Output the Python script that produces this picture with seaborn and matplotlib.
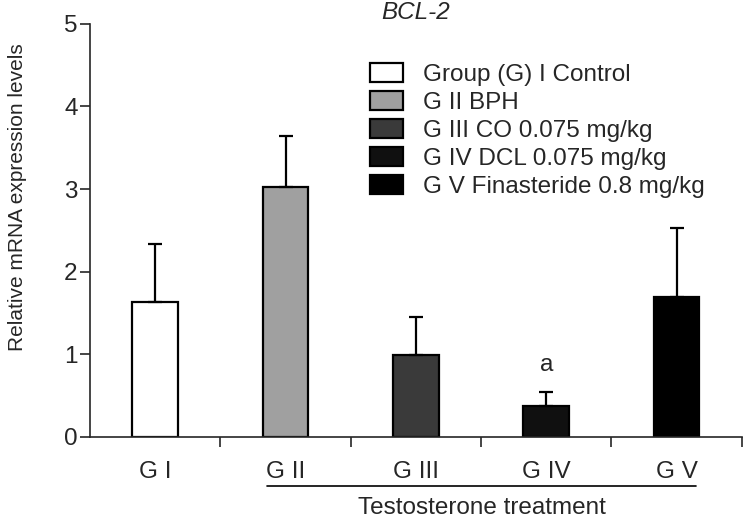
import matplotlib
matplotlib.use("Agg")
import pandas as pd
import seaborn as sns
from matplotlib import pyplot as plt

groups = ["G I", "G II", "G III", "G IV", "G V"]
legend_labels = ["Group (G) I Control",
                 "G II BPH",
                 "G III CO 0.075 mg/kg",
                 "G IV DCL 0.075 mg/kg",
                 "G V Finasteride 0.8 mg/kg"]
means = [1.63, 3.02, 0.99, 0.38, 1.69]
errors = [0.71, 0.62, 0.46, 0.16, 0.84]
colors = ["#ffffff", "#a0a0a0", "#3a3a3a", "#101010", "#000000"]

sns.set_style("ticks")
plt.rcParams["font.family"] = ["Liberation Sans", "DejaVu Sans"]

df = pd.DataFrame({"group": groups, "label": legend_labels, "value": means})

fig = plt.figure(figsize=(7.44, 5.19), dpi=100)
ax = fig.add_axes([0.121, 0.158, 0.876, 0.796])

sns.barplot(df, x="group", y="value", hue="label", palette=colors, dodge=False,
            width=0.35, edgecolor="black", linewidth=1.6, errorbar=None, ax=ax)
ax.errorbar(range(len(groups)), means, yerr=[[0] * len(errors), errors], fmt="none",
            ecolor="black", elinewidth=1.6, capsize=5, capthick=1.6, zorder=1)

ax.set_xlim(-0.5, 4.5)
ax.set_ylim(0, 5)
ax.set_yticks([0, 1, 2, 3, 4, 5])
ax.set_xticks(range(len(groups)))
ax.set_xticklabels(groups)
ax.set_xticks([0.5, 1.5, 2.5, 3.5, 4.5], minor=True)
ax.tick_params(axis="x", which="major", length=0, pad=17, labelsize=17.5)
ax.tick_params(axis="x", which="minor", length=7, width=1.2, direction="out")
ax.tick_params(axis="y", length=7, width=1.2, direction="out", labelsize=17.5, pad=2)
for s in ["top", "right"]:
    ax.spines[s].set_visible(False)
for s in ["left", "bottom"]:
    ax.spines[s].set_linewidth(1.2)

ax.set_xlabel("")
ax.set_ylabel("Relative mRNA expression levels", fontsize=15)
ax.yaxis.set_label_coords(-0.097, 0.581)
ax.set_title("BCL-2", fontsize=17.5, style="italic", pad=2)

ax.text(3, 0.87, "a", ha="center", va="center", fontsize=17.5)
ax.plot([0.86, 4.15], [-0.119, -0.119], color="black", lw=1.2,
        transform=ax.get_xaxis_transform(), clip_on=False)
ax.text(2.51, -0.172, "Testosterone treatment", ha="center", va="center", fontsize=17.5,
        transform=ax.get_xaxis_transform())

ax.legend(loc="upper left", bbox_to_anchor=(0.43, 0.905), frameon=False, fontsize=17.5,
          handlelength=1.35, handleheight=0.8, handletextpad=0.8, labelspacing=0.22,
          borderpad=0, borderaxespad=0)

fig.savefig("out.png", dpi=100)
